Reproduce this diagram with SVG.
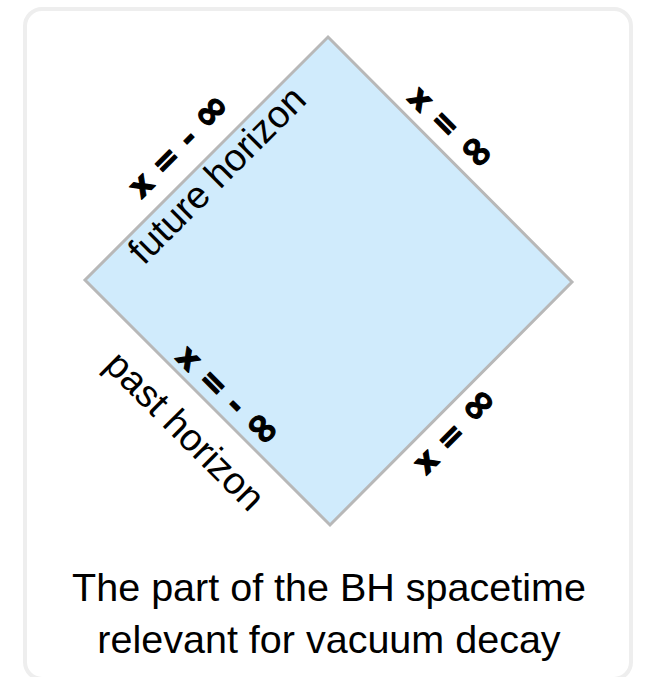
<svg xmlns="http://www.w3.org/2000/svg" width="646" height="677" viewBox="0 0 646 677">
<style>
.lbl{font-family:"Liberation Sans",Arial,sans-serif;font-size:38px;fill:#000}
.hand{font-family:"DejaVu Sans","Liberation Sans",sans-serif;font-weight:bold;font-size:32px;fill:#000;stroke:#000;stroke-width:1.2;stroke-linejoin:round}
.inf{font-size:42px}
.cap{font-family:"Liberation Sans",Arial,sans-serif;font-size:39.5px;fill:#000}
</style>
<rect x="25" y="9" width="606" height="670" rx="17" ry="17" fill="#ffffff" stroke="#eeeeee" stroke-width="4"/>
<g id="region">
<polygon points="328,37 572,282 330,525 85,280" fill="#d0ebfc" stroke="#b8b8b8" stroke-width="3" stroke-linejoin="miter"/>
</g>
<g id="labels">
<text class="lbl" text-anchor="middle" transform="translate(226,184) rotate(-45)">future horizon</text>
<text class="lbl" text-anchor="middle" transform="translate(176,440) rotate(45)">past horizon</text>
<text class="hand" text-anchor="middle" transform="translate(187,154) rotate(-45)">x = - <tspan class="inf">∞</tspan></text>
<text class="hand" text-anchor="middle" transform="translate(443,136) rotate(45)">x = <tspan class="inf">∞</tspan></text>
<text class="hand" text-anchor="middle" transform="translate(220,404) rotate(45)">x = - <tspan class="inf">∞</tspan></text>
<text class="hand" text-anchor="middle" transform="translate(463,439) rotate(-45)">x = <tspan class="inf">∞</tspan></text>
</g>
<g id="caption">
<text class="cap" text-anchor="middle" x="329" y="601">The part of the BH spacetime</text>
<text class="cap" text-anchor="middle" x="329" y="653">relevant for vacuum decay</text>
</g>
</svg>
